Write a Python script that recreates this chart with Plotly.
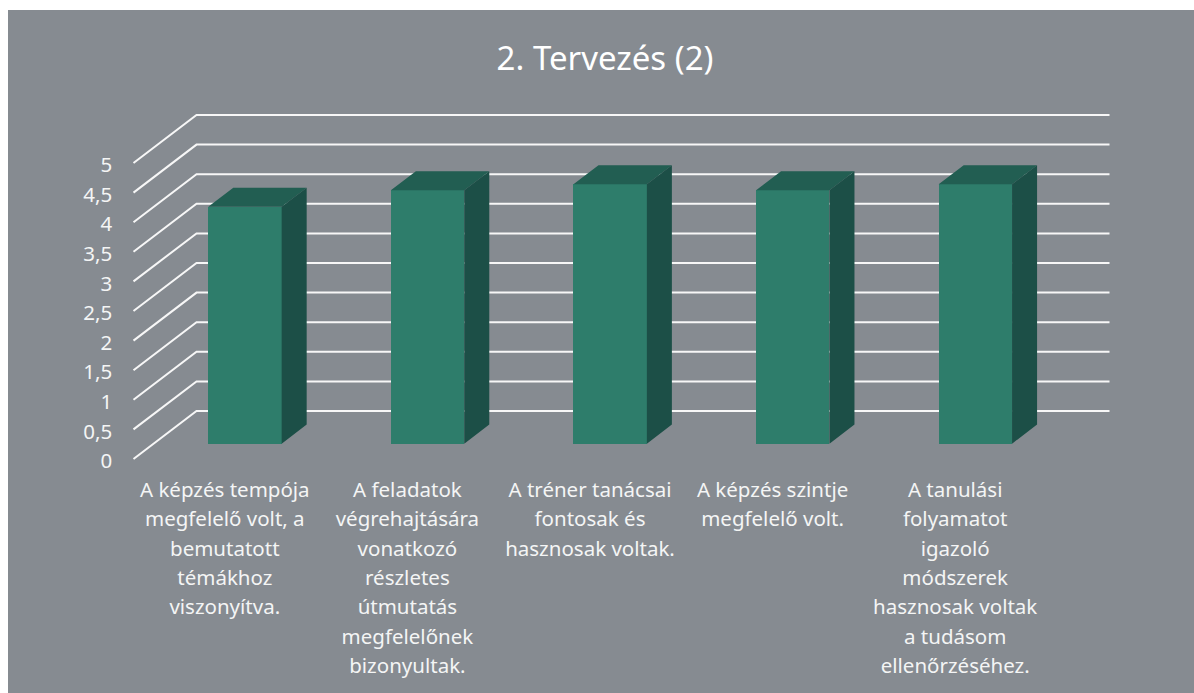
import plotly.graph_objects as go

TITLE = "2. Tervezés (2)"
CATEGORY_LINES = [
    ["A képzés tempója", "megfelelő volt, a", "bemutatott", "témákhoz", "viszonyítva."],
    ["A feladatok", "végrehajtására", "vonatkozó", "részletes", "útmutatás", "megfelelőnek", "bizonyultak."],
    ["A tréner tanácsai", "fontosak és", "hasznosak voltak."],
    ["A képzés szintje", "megfelelő volt."],
    ["A tanulási", "folyamatot", "igazoló", "módszerek", "hasznosak voltak", "a tudásom", "ellenőrzéséhez."],
]
VALUES = [4.0, 4.28, 4.38, 4.28, 4.38]
TICK_VALUES = [0, 0.5, 1, 1.5, 2, 2.5, 3, 3.5, 4, 4.5, 5]
TICK_LABELS = ["0", "0,5", "1", "1,5", "2", "2,5", "3", "3,5", "4", "4,5", "5"]

# oblique projection of the 3D chart: depth d in [0, 1]
DEPTH_X = 0.345     # category units shifted at full depth
DEPTH_Y = 0.811     # value units raised at full depth
BAR_FRONT = 0.32
BAR_BACK = 0.717
BAR_WIDTH = 0.402

GRAY = "#868B91"
FRONT = "#2E7D6B"
SIDE = "#1C4F47"
TOP = "#225E52"
FONT = "Noto Sans"
TEXT = "#F4F5F5"

def proj(x, y, d):
    return x + d * DEPTH_X, y + d * DEPTH_Y

n = len(VALUES)
fig = go.Figure()

# gridlines: front-left diagonal then back wall
gx, gy = [], []
for t in TICK_VALUES:
    for (x, d) in [(0, 0), (0, 1), (n, 1)]:
        px, py = proj(x, t, d)
        gx.append(px); gy.append(py)
    gx.append(None); gy.append(None)
fig.add_trace(go.Scatter(x=gx, y=gy, mode="lines",
                         line=dict(color="#F7F7F7", width=2), hoverinfo="skip",
                         showlegend=False, zorder=0))

# bar faces
centers = [i + 0.5 for i in range(n)]
fig.add_trace(go.Bar(x=[proj(c, 0, BAR_FRONT)[0] for c in centers],
                     y=VALUES, base=[proj(0, 0, BAR_FRONT)[1]] * n,
                     width=BAR_WIDTH, marker=dict(color=FRONT, line=dict(width=0)),
                     hoverinfo="skip", showlegend=False, zorder=1))

tx, ty, sx, sy = [], [], [], []
for c, v in zip(centers, VALUES):
    l, r = c - BAR_WIDTH / 2, c + BAR_WIDTH / 2
    for (x, y, d) in [(l, v, BAR_FRONT), (r, v, BAR_FRONT), (r, v, BAR_BACK), (l, v, BAR_BACK), (l, v, BAR_FRONT)]:
        a, b = proj(x, y, d); tx.append(a); ty.append(b)
    tx.append(None); ty.append(None)
    for (x, y, d) in [(r, 0, BAR_FRONT), (r, v, BAR_FRONT), (r, v, BAR_BACK), (r, 0, BAR_BACK), (r, 0, BAR_FRONT)]:
        a, b = proj(x, y, d); sx.append(a); sy.append(b)
    sx.append(None); sy.append(None)
for xs, ys, col in [(tx, ty, TOP), (sx, sy, SIDE)]:
    fig.add_trace(go.Scatter(x=xs, y=ys, mode="lines", fill="toself", fillcolor=col,
                             line=dict(width=0, color=col), hoverinfo="skip",
                             showlegend=False, zorder=2))

# value labels (left of the front edge)
fig.add_trace(go.Scatter(x=[-0.117] * len(TICK_VALUES), y=[t - 0.07 for t in TICK_VALUES], mode="text",
                         text=TICK_LABELS, textposition="middle left",
                         textfont=dict(family=FONT, size=20.5, color=TEXT),
                         hoverinfo="skip", showlegend=False, zorder=3))

# category labels, one point per line
lx, ly, lt = [], [], []
for c, lines in zip(centers, CATEGORY_LINES):
    for i, s in enumerate(lines):
        lx.append(c); ly.append(-0.55 - 0.497 * i); lt.append(s)
fig.add_trace(go.Scatter(x=lx, y=ly, mode="text", text=lt, textposition="middle center",
                         textfont=dict(family=FONT, size=20.5, color=TEXT),
                         hoverinfo="skip", showlegend=False, zorder=3))

fig.update_layout(
    width=1194, height=693, autosize=False,
    margin=dict(l=8, r=0, t=10, b=0),
    paper_bgcolor="white", plot_bgcolor=GRAY,
    title=dict(text=TITLE, x=605 / 1194, xanchor="center", y=1 - 58 / 693, yanchor="middle",
               font=dict(family=FONT, size=33, color="white")),
    xaxis=dict(range=[(8 - 133.5) / 182.6, (1194 - 133.5) / 182.6], visible=False, fixedrange=True),
    yaxis=dict(range=[(459 - 693) / 59.2, (459 - 10) / 59.2], visible=False, fixedrange=True),
    bargap=0,
)
fig.write_html("out.html", config=dict(displayModeBar=False),
               post_script="document.body.style.margin='0';document.body.style.overflow='hidden';")
